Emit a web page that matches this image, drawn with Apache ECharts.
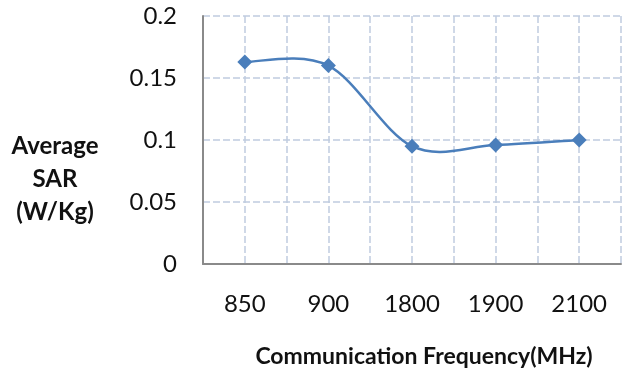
<!DOCTYPE html>
<html>
<head>
<meta charset="utf-8">
<script src="https://cdn.jsdelivr.net/npm/echarts@6/dist/echarts.min.js"></script>
<style>html,body{margin:0;padding:0;background:#fff}#c{width:636px;height:390px}</style>
</head>
<body>
<div id="c"></div>
<script>
var categories = ['850', '900', '1800', '1900', '2100'];
var sarValues = [0.163, 0.160, 0.095, 0.096, 0.100];
var yTicks = [0, 0.05, 0.1, 0.15, 0.2];
var xTitle = 'Communication Frequency(MHz)';
var yTitle = 'Average\nSAR\n(W/Kg)';

var FONT = 'Lato';
var gridColor = '#C0CCE0';
var lineColor = '#4A7EBB';
var TENSION = 1 / 6;

// Smooth (Catmull-Rom style, like spreadsheet smoothed lines) segment from point i to i+1,
// positioned through the chart's own axes via api.coord.
function renderSegment(params, api) {
  var i = params.dataIndex;
  var n = sarValues.length;
  if (i >= n - 1) return null;
  function pt(k) {
    k = Math.max(0, Math.min(n - 1, k));
    return api.coord([k, sarValues[k]]);
  }
  var p0 = pt(i - 1), p1 = pt(i), p2 = pt(i + 1), p3 = pt(i + 2);
  var c1 = [p1[0] + (p2[0] - p0[0]) * TENSION, p1[1] + (p2[1] - p0[1]) * TENSION];
  var c2 = [p2[0] - (p3[0] - p1[0]) * TENSION, p2[1] - (p3[1] - p1[1]) * TENSION];
  return {
    type: 'bezierCurve',
    shape: {x1: p1[0], y1: p1[1], cpx1: c1[0], cpy1: c1[1], cpx2: c2[0], cpy2: c2[1], x2: p2[0], y2: p2[1]},
    style: {stroke: lineColor, lineWidth: 2.5, fill: null}
  };
}

var chart = echarts.init(document.getElementById('c'), null, {renderer: 'canvas'});
chart.setOption({
  animation: false,
  backgroundColor: '#fff',
  grid: {left: 203, right: 15, top: 16, bottom: 126, containLabel: false},
  xAxis: [{
    type: 'category',
    data: categories,
    boundaryGap: true,
    axisLine: {show: true, lineStyle: {color: '#8a8a8a', width: 2}},
    axisTick: {show: false},
    splitLine: {show: false},
    axisLabel: {fontFamily: FONT, fontSize: 24, color: '#111', margin: 28}
  }, {
    type: 'category',
    data: ['', '', '', '', '', '', '', '', '', ''],
    boundaryGap: true,
    position: 'bottom',
    axisLine: {show: false},
    axisTick: {show: false},
    axisLabel: {show: false},
    splitLine: {show: true, lineStyle: {color: gridColor, width: 1.5, type: [7, 3]}}
  }],
  yAxis: {
    type: 'value',
    min: yTicks[0],
    max: yTicks[yTicks.length - 1],
    interval: yTicks[1] - yTicks[0],
    axisLine: {show: true, lineStyle: {color: '#8a8a8a', width: 2}},
    axisTick: {show: false},
    axisLabel: {fontFamily: FONT, fontSize: 24, color: '#111', margin: 26},
    splitLine: {show: true, lineStyle: {color: gridColor, width: 1.5, type: [7, 3]}}
  },
  graphic: [{
    type: 'text',
    style: {
      text: xTitle, x: 424, y: 357, align: 'center', verticalAlign: 'middle',
      fontFamily: FONT, fontWeight: 'bold', fontSize: 23, fill: '#111'
    }
  }, {
    type: 'text',
    style: {
      text: yTitle, x: 55, y: 179, align: 'center', verticalAlign: 'middle',
      lineHeight: 33, fontFamily: FONT, fontWeight: 'bold', fontSize: 24, fill: '#111'
    }
  }],
  series: [{
    type: 'custom',
    xAxisIndex: 0,
    renderItem: renderSegment,
    data: sarValues.map(function (v, i) { return [i, v]; }),
    encode: {x: 0, y: 1},
    z: 2
  }, {
    type: 'scatter',
    xAxisIndex: 0,
    data: sarValues,
    symbol: 'diamond',
    symbolSize: 15,
    itemStyle: {color: lineColor, opacity: 1},
    z: 3
  }]
});
</script>
</body>
</html>
